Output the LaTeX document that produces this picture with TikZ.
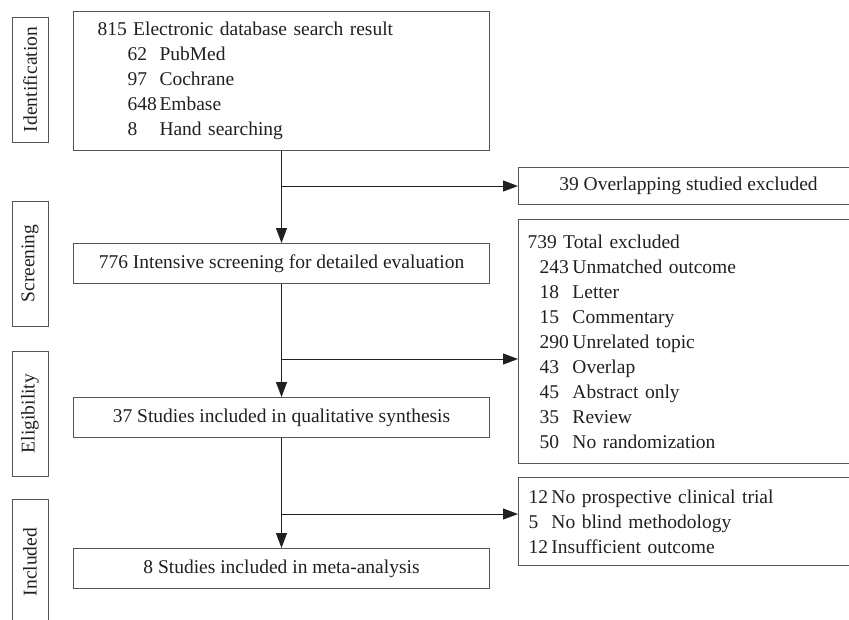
\documentclass[tikz,border=0pt]{standalone}
\usepackage{fontspec}
\setmainfont{Liberation Serif}
\usetikzlibrary{arrows.meta}
\definecolor{ink}{HTML}{231F20}
\definecolor{frame}{HTML}{555555}
\tikzset{
  every node/.style={text=ink, font=\fontsize{19.5}{25}\selectfont},
  box/.style={draw=frame, line width=1pt, inner ysep=0pt},
  lbox/.style={box, align=left, anchor=north west},
  cbox/.style={box, align=center, anchor=north west, minimum width=416pt, minimum height=40pt},
  lab/.style={draw=frame, line width=1pt, rotate=90, minimum width=125pt, minimum height=36pt, inner sep=0pt},
  conn/.style={draw=ink, line width=1pt},
  arr/.style={conn, -{Triangle[length=15pt,width=11pt]}},
}
\newcommand{\nm}[2]{\makebox[#1pt][l]{#2}}
\begin{document}
\begin{tikzpicture}[x={(1pt,0)}, y={(0,-1pt)}]
\useasboundingbox (0,0) rectangle (849,619);
\clip (0,0) rectangle (849,619);
% phase labels
\node[lab] (L1) at (30,79.5) {Identification};
\node[lab] (L2) at (30,263.5) {Screening};
\node[lab] (L3) at (30,413.5) {Eligibility};
\node[lab] (L4) at (30,562) {Included};
% main column
\node[lbox, inner xsep=24pt, text width=368pt, minimum height=139pt] (top) at (73,11) {%
815 Electronic database search result\\
\hspace*{30pt}\nm{32}{62}PubMed\\
\hspace*{30pt}\nm{32}{97}Cochrane\\
\hspace*{30pt}\nm{32}{648}Embase\\
\hspace*{30pt}\nm{32}{8}Hand searching};
\node[cbox] (scr) at (73,243) {776 Intensive screening for detailed evaluation};
\node[cbox] (eli) at (73,397) {37 Studies included in qualitative synthesis};
\node[cbox] (inc) at (73,548) {8 Studies included in meta-analysis};
% exclusion boxes
\node[box, anchor=north west, minimum width=340pt, minimum height=37pt] (ex1) at (518,167) {39 Overlapping studied excluded};
\node[lbox, inner xsep=9pt, text width=322pt, minimum height=244pt] (ex2) at (518,219) {%
739 Total excluded\\
\hspace*{12pt}\nm{33}{243}Unmatched outcome\\
\hspace*{12pt}\nm{33}{18}Letter\\
\hspace*{12pt}\nm{33}{15}Commentary\\
\hspace*{12pt}\nm{33}{290}Unrelated topic\\
\hspace*{12pt}\nm{33}{43}Overlap\\
\hspace*{12pt}\nm{33}{45}Abstract only\\
\hspace*{12pt}\nm{33}{35}Review\\
\hspace*{12pt}\nm{33}{50}No randomization};
\node[lbox, inner xsep=10pt, text width=320pt, minimum height=88pt] (ex3) at (518,477) {%
\nm{23}{12}No prospective clinical trial\\
\nm{23}{5}No blind methodology\\
\nm{23}{12}Insufficient outcome};
% connectors
\coordinate (b1) at (top.south |- ex1.west);
\coordinate (b2) at (281,359);
\coordinate (b3) at (281,514);
\draw[arr] (top.south) -- (scr.north);
\draw[arr] (scr.south) -- (eli.north);
\draw[arr] (eli.south) -- (inc.north);
\draw[arr] (b1) -- (ex1.west);
\draw[arr] (b2) -- (ex2.west |- b2);
\draw[arr] (b3) -- (ex3.west |- b3);
\end{tikzpicture}
\end{document}
